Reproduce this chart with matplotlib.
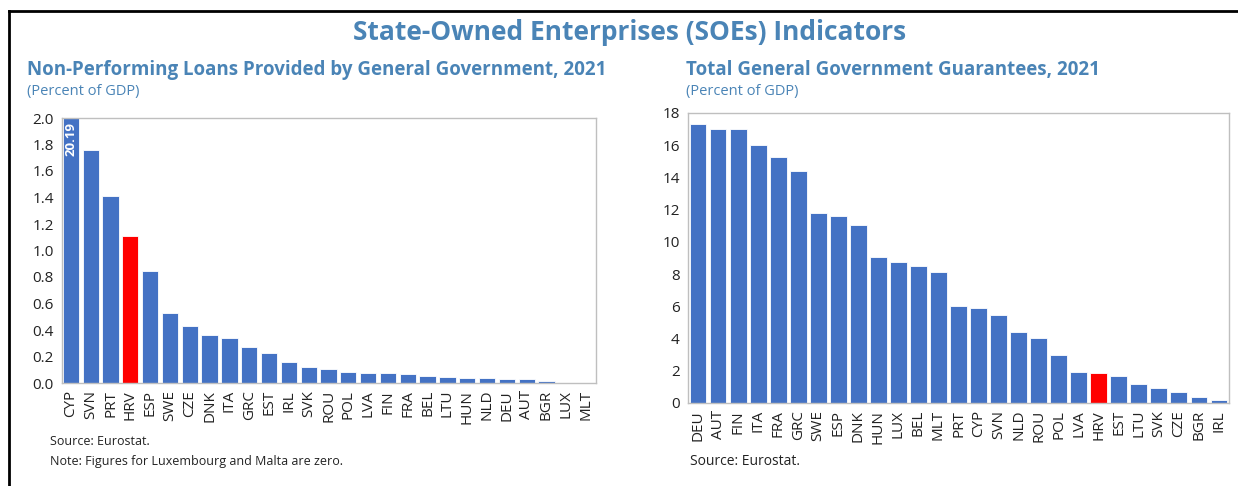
import matplotlib.pyplot as plt
import numpy as np
from matplotlib.lines import Line2D

plt.rcParams['font.family'] = ['Open Sans', 'DejaVu Sans']

# left panel: non-performing loans
npl_countries = ['CYP', 'SVN', 'PRT', 'HRV', 'ESP', 'SWE', 'CZE', 'DNK', 'ITA', 'GRC',
                 'EST', 'IRL', 'SVK', 'ROU', 'POL', 'LVA', 'FIN', 'FRA', 'BEL', 'LTU',
                 'HUN', 'NLD', 'DEU', 'AUT', 'BGR', 'LUX', 'MLT']
npl_values = [20.19, 1.76, 1.415, 1.11, 0.845, 0.53, 0.43, 0.36, 0.338, 0.268,
              0.226, 0.157, 0.118, 0.108, 0.086, 0.076, 0.076, 0.068, 0.056, 0.045,
              0.039, 0.039, 0.029, 0.029, 0.016, 0.0, 0.0]

# right panel: guarantees
gua_countries = ['DEU', 'AUT', 'FIN', 'ITA', 'FRA', 'GRC', 'SWE', 'ESP', 'DNK', 'HUN',
                 'LUX', 'BEL', 'MLT', 'PRT', 'CYP', 'SVN', 'NLD', 'ROU', 'POL', 'LVA',
                 'HRV', 'EST', 'LTU', 'SVK', 'CZE', 'BGR', 'IRL']
gua_values = [17.3, 17.03, 16.99, 16.01, 15.25, 14.4, 11.77, 11.59, 11.05, 9.08,
              8.73, 8.52, 8.13, 6.02, 5.92, 5.46, 4.39, 4.03, 3.0, 1.9,
              1.84, 1.66, 1.16, 0.93, 0.68, 0.37, 0.21]

blue = '#4472C4'
red = '#FF0000'
title_col = '#4A84B6'
spine_col = '#BFBFBF'

W, H = 1238, 486
fig = plt.figure(figsize=(W / 100, H / 100), dpi=100)

def box(l, t, r, b):
    return [l / W, 1 - b / H, (r - l) / W, (b - t) / H]

def style(ax):
    for s in ax.spines.values():
        s.set_color(spine_col)
        s.set_linewidth(1.0)
    ax.tick_params(axis='both', length=0, labelsize=11, colors='#222222')
    ax.tick_params(axis='y', pad=6)
    ax.tick_params(axis='x', pad=5)

# left chart
ax1 = fig.add_axes(box(62, 118, 596, 383))
x1 = np.arange(len(npl_countries))
cols1 = [red if c == 'HRV' else blue for c in npl_countries]
ax1.bar(x1, npl_values, width=0.82, color=cols1, edgecolor='white', linewidth=0.6)
ax1.set_ylim(0, 2.0)
ax1.set_xlim(-0.45, len(npl_countries) - 0.5)
ax1.set_yticks(np.arange(0, 2.01, 0.2))
ax1.set_yticklabels(['%.1f' % v for v in np.arange(0, 2.01, 0.2)])
ax1.set_xticks(x1)
ax1.set_xticklabels(npl_countries, rotation=90)
style(ax1)
ax1.text(0, 1.97, '%.2f' % npl_values[0], rotation=90, ha='center', va='top',
         color='white', fontsize=9.5, fontweight='bold')

# right chart
ax2 = fig.add_axes(box(688, 113, 1229, 403))
x2 = np.arange(len(gua_countries))
cols2 = [red if c == 'HRV' else blue for c in gua_countries]
ax2.bar(x2, gua_values, width=0.84, color=cols2, edgecolor='white', linewidth=0.6)
ax2.set_ylim(0, 18)
ax2.set_xlim(-0.5, len(gua_countries) - 0.5)
ax2.set_yticks(np.arange(0, 19, 2))
ax2.set_xticks(x2)
ax2.set_xticklabels(gua_countries, rotation=90)
style(ax2)

# titles
fig.text(630 / W, 1 - 33 / H, 'State-Owned Enterprises (SOEs) Indicators', ha='center', va='center',
         fontsize=19, fontweight='bold', color=title_col)
fig.text(27 / W, 1 - 70 / H, 'Non-Performing Loans Provided by General Government, 2021',
         ha='left', va='center', fontsize=13.5, fontweight='bold', color=title_col)
fig.text(27 / W, 1 - 91 / H, '(Percent of GDP)', ha='left', va='center', fontsize=10.5, color=title_col)
fig.text(686 / W, 1 - 70 / H, 'Total General Government Guarantees, 2021',
         ha='left', va='center', fontsize=13.5, fontweight='bold', color=title_col)
fig.text(686 / W, 1 - 91 / H, '(Percent of GDP)', ha='left', va='center', fontsize=10.5, color=title_col)

# notes
fig.text(50 / W, 1 - 441 / H, 'Source: Eurostat.', ha='left', va='center', fontsize=9, color='#222222')
fig.text(50 / W, 1 - 461 / H, 'Note: Figures for Luxembourg and Malta are zero.', ha='left', va='center',
         fontsize=9, color='#222222')
fig.text(690 / W, 1 - 461 / H, 'Source: Eurostat.', ha='left', va='center', fontsize=10, color='#222222')

# frame lines (top and left)
fig.add_artist(Line2D([9 / W, 1], [1 - 11 / H, 1 - 11 / H], color='black', lw=2, transform=fig.transFigure))
fig.add_artist(Line2D([9 / W, 9 / W], [0, 1 - 11 / H], color='black', lw=2, transform=fig.transFigure))

plt.savefig('out.png', dpi=100)
